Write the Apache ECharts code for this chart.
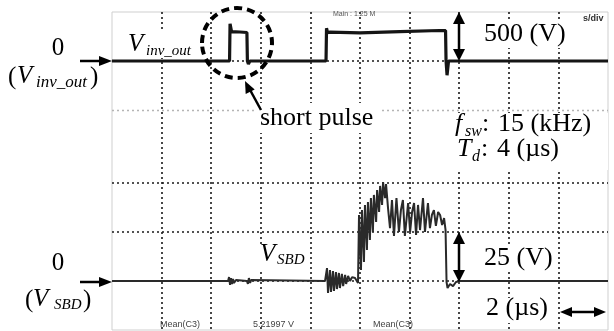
<!DOCTYPE html>
<html>
<head>
<meta charset="utf-8">
<script src="https://cdn.jsdelivr.net/npm/echarts@6/dist/echarts.min.js"></script>
<style>
  html, body { margin: 0; padding: 0; background: #fff; }
  #chart { width: 614px; height: 331px; }
</style>
</head>
<body>
<div id="chart"></div>
<script>
// Time base: 2 µs/div, 10 divisions
const timeRange = [0, 20];
const timeStep = 2;

// Inverter output voltage, [time (µs), volts], 500 V/div
const vInvOut = [
  [0, 0], [4.74, 0], [4.76, 380], [4.82, 300], [5.16, 296], [5.44, 291],
  [5.46, 0], [5.50, -30], [5.56, 0], [8.63, 0], [8.65, 335], [8.69, 290],
  [8.73, 310], [8.79, 294], [10.0, 288], [11.6, 300], [13.2, 311],
  [13.45, 310], [13.47, 0], [13.51, -145], [13.57, 0], [20, 0]
];

// Schottky diode voltage, [time (µs), volts], 25 V/div
const vSbd = [
  [0, 0], [4.68, 0], [4.72, 2], [4.76, -2], [4.80, 1.5], [4.84, -1.5],
  [4.88, 1], [4.92, -1], [5.00, 0.5], [5.08, 0], [5.44, 0], [5.48, -1.5],
  [5.52, 1.5], [5.57, -1], [5.61, 0.5], [5.69, 0], [8.59, 0], [8.67, 6.6],
  [8.71, -6.1], [8.79, 5.6], [8.83, -5.6], [8.91, 5.1], [8.95, -5.1],
  [9.03, 4.6], [9.07, -4.1], [9.15, 4.1], [9.19, -3.6], [9.27, 3.6],
  [9.32, -2.6], [9.40, 3.1], [9.44, -1.5], [9.52, 2.6], [9.60, 0],
  [9.68, 2.0], [9.80, 1.5], [9.88, 1.0], [9.92, -1.0], [9.96, 33.7],
  [10.04, 5.6], [10.08, 36.2], [10.16, 9.7], [10.20, 38.8], [10.28, 15.8],
  [10.32, 40.3], [10.40, 20.9], [10.44, 42.3], [10.52, 25.0], [10.56, 43.9],
  [10.65, 30.1], [10.69, 46.4], [10.77, 35.2], [10.81, 48.5], [10.89, 38.8],
  [10.93, 50.5], [11.01, 42.3], [11.05, 49.5], [11.13, 37.2], [11.21, 27.0],
  [11.29, 41.3], [11.37, 23.0], [11.47, 42.3], [11.57, 25.0], [11.65, 36.2],
  [11.73, 41.3], [11.81, 23.0], [11.94, 39.8], [12.02, 25.0], [12.10, 35.2],
  [12.18, 39.8], [12.26, 23.5], [12.34, 38.8], [12.42, 26.0], [12.54, 42.3],
  [12.62, 25.0], [12.74, 39.8], [12.82, 27.0], [12.90, 33.7], [12.98, 36.2],
  [13.06, 28.1], [13.15, 35.2], [13.23, 33.7], [13.31, 28.6], [13.39, 32.1],
  [13.45, 26.0], [13.49, -0.5], [13.53, -3.6], [13.63, -1.5], [13.75, -2.6],
  [13.87, -0.5], [14.03, 0], [20, 0]
];

// Vertical scales
const invRange = [-500, 500];   // top trace, 500 V/div
const invStep = 500;
const sbdRange = [-25, 75];     // bottom trace, 25 V/div
const sbdStep = 25;

const SERIF = '"Liberation Serif", "Times New Roman", serif';
const SANS = '"Liberation Sans", Arial, sans-serif';

// Text placed by its baseline
function txt(text, x, baseline, size, opts) {
  opts = opts || {};
  return {
    type: 'text', z: 20,
    style: {
      x: x, y: baseline - 0.34 * size, text: text,
      font: (opts.bold ? 'bold ' : '') + (opts.italic ? 'italic ' : '') + size + 'px ' + (opts.family || SERIF),
      fill: opts.color || '#000',
      align: opts.align || 'left', verticalAlign: 'middle'
    }
  };
}
function blank(x, y, w, h) {
  return { type: 'rect', z: 1, shape: { x: x, y: y, width: w, height: h }, style: { fill: '#fff' } };
}
function seg(x1, y1, x2, y2, w) {
  return { type: 'line', z: 20, shape: { x1: x1, y1: y1, x2: x2, y2: y2 }, style: { stroke: '#000', lineWidth: w || 2.5 } };
}
function head(points) {
  return { type: 'polygon', z: 20, shape: { points: points }, style: { fill: '#000' } };
}

const dotted = { color: '#1a1a1a', width: 1.6, type: [2, 3] };
const faintDotted = { color: '#b5b5b5', width: 1.4, type: [2, 3] };

const graphics = [
  // white patches behind annotations
  blank(125, 31, 72, 27),
  blank(257, 103, 124, 30),
  blank(420, 113, 188, 57),
  blank(479, 21, 94, 27),
  blank(257, 244, 52, 25),
  blank(479, 246, 78, 24),
  blank(481, 298, 62, 25),

  // top channel labels
  txt('0', 58, 57, 25, { align: 'center' }),
  txt('(', 8, 86, 25),
  txt('V', 17, 85, 25, { italic: true }),
  txt('inv_out', 36, 88, 17, { italic: true }),
  txt(')', 90, 86, 25),
  seg(80, 61, 102, 61, 2.5),
  head([[99, 56], [112, 61], [99, 66]]),

  txt('V', 128, 53, 25, { italic: true }),
  txt('inv_out', 146, 56, 15, { italic: true }),

  // short pulse marker
  { type: 'ellipse', z: 20, shape: { cx: 237, cy: 43, rx: 35, ry: 35 },
    style: { fill: null, stroke: '#000', lineWidth: 4, lineDash: [8, 5] } },
  seg(261, 110, 249, 88, 2.5),
  head([[245, 81], [254.7, 89.6], [245.7, 94]]),
  txt('short pulse', 260, 127, 26),

  // scale markers
  txt('500 (V)', 484, 43, 26),
  seg(459, 20, 459, 53, 2.5),
  head([[453, 24], [459, 12], [465, 24]]),
  head([[453, 49], [459, 61], [465, 49]]),

  txt('f', 455, 133, 26, { italic: true }),
  txt('sw', 465, 137, 16, { italic: true }),
  txt(':', 482, 133, 26),
  txt('15 (kHz)', 498, 133, 26),
  txt('T', 457, 158, 26, { italic: true }),
  txt('d', 472, 162, 16, { italic: true }),
  txt(':', 481, 158, 26),
  txt('4 (µs)', 497, 158, 26),

  // bottom channel labels
  txt('V', 260, 263, 25, { italic: true }),
  txt('SBD', 277, 265, 15, { italic: true }),
  txt('0', 58, 272, 25, { align: 'center' }),
  txt('(', 25, 309, 25),
  txt('V', 33, 308, 25, { italic: true }),
  txt('SBD', 54, 310, 15, { italic: true }),
  txt(')', 83, 309, 25),
  seg(80, 282, 102, 282, 2.5),
  head([[99, 277], [112, 282], [99, 287]]),

  txt('25 (V)', 484, 267, 26),
  seg(459, 240, 459, 274, 2.5),
  head([[453, 244], [459, 232], [465, 244]]),
  head([[453, 270], [459, 282], [465, 270]]),

  txt('2 (µs)', 486, 317, 26),
  seg(568, 312, 598, 312, 2.5),
  head([[560, 312], [572, 307], [572, 317]]),
  head([[606, 312], [594, 307], [594, 317]]),

  // scope readouts
  txt('Main : 1.25 M', 333, 16, 7, { family: SANS, color: '#555' }),
  txt('s/div', 583, 22, 9, { family: SANS, bold: true, color: '#333' }),
  txt('Mean(C3)', 160, 328, 9, { family: SANS, color: '#444' }),
  txt('5.21997 V', 253, 328, 9, { family: SANS, color: '#444' }),
  txt('Mean(C3)', 373, 328, 9, { family: SANS, color: '#444' })
];

const hiddenParts = { axisLine: { show: false }, axisTick: { show: false }, axisLabel: { show: false } };

const chart = echarts.init(document.getElementById('chart'), null, { renderer: 'canvas' });
chart.setOption({
  animation: false,
  backgroundColor: '#fff',
  grid: [
    // screen frame
    { left: 112, top: 12, width: 496, height: 318, show: true, borderColor: '#cfcfcf', borderWidth: 1, backgroundColor: 'transparent' },
    // top channel
    { left: 112, top: 12, width: 496, height: 98 },
    // bottom channel
    { left: 112, top: 134, width: 496, height: 196 },
    // faint division line under the top channel
    { left: 112, top: 12, width: 496, height: 98 }
  ],
  xAxis: [
    Object.assign({ gridIndex: 0, type: 'value', min: timeRange[0], max: timeRange[1], interval: timeStep,
      splitLine: { show: true, showMinLine: false, showMaxLine: false, lineStyle: dotted } }, hiddenParts),
    Object.assign({ gridIndex: 1, type: 'value', min: timeRange[0], max: timeRange[1], interval: timeStep,
      splitLine: { show: false } }, hiddenParts),
    Object.assign({ gridIndex: 2, type: 'value', min: timeRange[0], max: timeRange[1], interval: timeStep,
      splitLine: { show: false } }, hiddenParts),
    Object.assign({ gridIndex: 3, type: 'value', min: timeRange[0], max: timeRange[1], interval: timeStep,
      splitLine: { show: false } }, hiddenParts)
  ],
  yAxis: [
    Object.assign({ gridIndex: 0, type: 'value', min: 0, max: 1, splitLine: { show: false } }, hiddenParts),
    Object.assign({ gridIndex: 1, type: 'value', min: invRange[0], max: invRange[1], interval: invStep,
      splitLine: { show: true, showMinLine: false, showMaxLine: false, lineStyle: dotted } }, hiddenParts),
    Object.assign({ gridIndex: 2, type: 'value', min: sbdRange[0], max: sbdRange[1], interval: sbdStep,
      splitLine: { show: true, showMinLine: false, showMaxLine: false, lineStyle: dotted } }, hiddenParts),
    Object.assign({ gridIndex: 3, type: 'value', min: invRange[0], max: invRange[1], interval: invStep * 2,
      splitLine: { show: true, showMinLine: true, showMaxLine: false, lineStyle: faintDotted } }, hiddenParts)
  ],
  series: [
    { name: 'Vinv_out', type: 'line', xAxisIndex: 1, yAxisIndex: 1, data: vInvOut,
      symbol: 'none', lineStyle: { color: '#151515', width: 3.2 }, z: 5 },
    { name: 'VSBD', type: 'line', xAxisIndex: 2, yAxisIndex: 2, data: vSbd,
      symbol: 'none', lineStyle: { color: '#2a2a2a', width: 2 }, z: 5 }
  ],
  graphic: graphics
});
</script>
</body>
</html>
